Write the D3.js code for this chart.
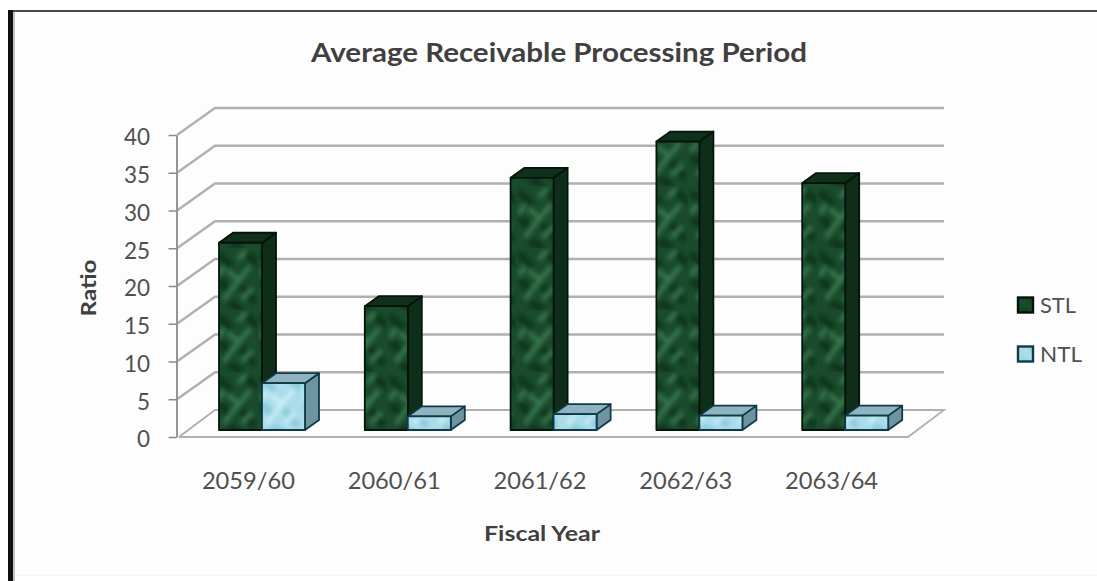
<!DOCTYPE html>
<html>
<head>
<meta charset="utf-8">
<script src="https://cdn.jsdelivr.net/npm/d3@7/dist/d3.min.js"></script>
<style>
  html, body { margin: 0; padding: 0; background: #fff; }
  svg { display: block; }
  text { font-family: Lato, "Open Sans", sans-serif; }
</style>
</head>
<body>
<svg id="chart" width="1097" height="581"></svg>
<script>
// Receivable processing period by fiscal year
const years = ["2059/60", "2060/61", "2061/62", "2062/63", "2063/64"];
const stl = [24.8, 16.4, 33.4, 38.2, 32.7];
const ntl = [6.2, 1.8, 2.1, 1.9, 1.9];
const ticks = [0, 5, 10, 15, 20, 25, 30, 35, 40];
const seriesNames = ["STL", "NTL"];

const svg = d3.select("#chart");
const W = 1097, H = 581;

// Oblique projection of the floor: front edge to back wall
const front = { left: 179, right: 908, base: 437, top: 135 };
const depth = { dx: 36, dy: -27 };
const barDepth = { dx: 14, dy: -10 };
const barInset = 0.26;          // where the bars stand on the floor

const y = d3.scaleLinear().domain([0, 40]).range([front.base, front.top]);
const x = d3.scaleBand().domain(years).range([front.left, front.right]);
const barW = 43;
const barLead = 40;

const skins = {
  STL: { front: "url(#stlMarble)", top: "#10301b", side: "#0f2e1a", stroke: "#04140a" },
  NTL: { front: "url(#ntlMarble)", top: "#8fb4bf", side: "#6f94a0", stroke: "#0f3a49" }
};

const defs = svg.append("defs");

// Marble-like fill patterns for the bar faces
function marble(id, base, streak, dark) {
  const p = defs.append("pattern").attr("id", id)
    .attr("patternUnits", "userSpaceOnUse").attr("width", 43).attr("height", 62);
  p.append("rect").attr("width", 43).attr("height", 62).attr("fill", base);
  const f = defs.append("filter").attr("id", id + "Soft")
    .attr("x", "-20%").attr("y", "-20%").attr("width", "140%").attr("height", "140%");
  f.append("feGaussianBlur").attr("stdDeviation", 2);
  const g = p.append("g").attr("filter", `url(#${id}Soft)`).attr("fill", "none").attr("stroke-linecap", "round");
  g.append("path").attr("stroke", dark).attr("stroke-width", 7)
    .attr("d", "M5 8 L14 16 M32 6 L40 14 M6 34 L14 42 M28 40 L38 52 M16 56 L24 60");
  g.append("path").attr("stroke", streak).attr("stroke-width", 4.5).attr("opacity", 0.8)
    .attr("d", "M10 50 L22 34 L34 20 M14 24 L24 32 M28 50 L36 42 M24 10 L30 4 M4 26 L8 20");
}
marble("stlMarble", "#1a4b2c", "#3f8556", "#0d361d");
marble("ntlMarble", "#aadcea", "#d4f2f9", "#8ccadb");

// Sheet background and frame rules
svg.append("rect").attr("width", W).attr("height", H).attr("fill", "#fff");
svg.append("rect").attr("x", 13).attr("y", 12).attr("width", W - 13).attr("height", 563).attr("fill", "#fdfdfd");
svg.append("rect").attr("x", 13).attr("y", 575).attr("width", W - 13).attr("height", 1).attr("fill", "#f6f6f6");
svg.append("rect").attr("x", 8).attr("y", 10).attr("width", 5).attr("height", H - 10).attr("fill", "#111");
svg.append("rect").attr("x", 13).attr("y", 10).attr("width", 2).attr("height", H - 10).attr("fill", "#c4c4c4");
svg.append("rect").attr("x", 13).attr("y", 10).attr("width", W - 13).attr("height", 2).attr("fill", "#4a4a4a");

const grid = svg.append("g").attr("fill", "none").attr("stroke", "#b0b0b0").attr("stroke-width", 2.4);

// Back wall gridlines with their diagonal returns to the axis
grid.selectAll("path.wall").data(ticks.filter(t => t > 0)).join("path")
  .attr("class", "wall")
  .attr("d", t => d3.line()([
    [front.left - 2, y(t)],
    [front.left + depth.dx, y(t) + depth.dy],
    [front.right + depth.dx, y(t) + depth.dy]
  ]));

// Floor outline
grid.append("path").attr("stroke-width", 1.8).attr("d", d3.line()([
  [front.left, y(0)],
  [front.left + depth.dx, y(0) + depth.dy],
  [front.right + depth.dx, y(0) + depth.dy],
  [front.right, y(0)],
  [front.left, y(0)]
]));

// Value axis
const axis = d3.axisLeft(y).tickValues(ticks).tickSize(8).tickSizeOuter(0);
const axisG = svg.append("g").attr("transform", `translate(${front.left - 2.5},0)`).call(axis);
axisG.select(".domain").attr("stroke", "#959595").attr("stroke-width", 2);
axisG.selectAll(".tick line").attr("stroke", "#8a8a8a").attr("stroke-width", 1.5);
axisG.selectAll(".tick text").attr("fill", "#505050").attr("font-size", 22.5)
  .attr("x", -26.5).attr("dy", "0.44em");
axisG.attr("font-family", null);

// One oblique box per value
function box(g, x0, value, skin) {
  const base = y(0) + barInset * depth.dy;
  const top = base - (y(0) - y(value));
  const { dx, dy } = barDepth;
  const face = g.append("g").attr("stroke", skin.stroke).attr("stroke-width", 1.8).attr("stroke-linejoin", "round");
  face.append("path").attr("fill", skin.side).attr("d", d3.line()([
    [x0 + barW, top], [x0 + barW + dx, top + dy], [x0 + barW + dx, base + dy], [x0 + barW, base]
  ]) + "Z");
  face.append("path").attr("fill", skin.top).attr("d", d3.line()([
    [x0, top], [x0 + dx, top + dy], [x0 + barW + dx, top + dy], [x0 + barW, top]
  ]) + "Z");
  face.append("rect").attr("x", x0).attr("y", top)
    .attr("width", barW).attr("height", base - top).attr("fill", skin.front);
}

const bars = svg.append("g");
years.forEach((year, i) => {
  const x0 = x(year) + barLead;
  const g = bars.append("g");
  box(g, x0, stl[i], skins.STL);
  box(g, x0 + barW, ntl[i], skins.NTL);
});

// Labels are set to a fixed run length, glyphs stretched with it
function fit(sel, len) {
  return sel.attr("textLength", len).attr("lengthAdjust", "spacingAndGlyphs");
}

// Category labels
fit(svg.append("g").selectAll("text").data(years).join("text")
  .attr("x", d => x(d) + x.bandwidth() / 2 - 3.5)
  .attr("y", 489)
  .attr("text-anchor", "middle")
  .attr("fill", "#505050").attr("font-size", 23)
  .text(d => d), 93);

// Titles
fit(svg.append("text").attr("x", 559).attr("y", 62).attr("text-anchor", "middle")
  .attr("fill", "#404040").attr("font-size", 27.5).attr("font-weight", 700)
  .text("Average Receivable Processing Period"), 496);
fit(svg.append("text").attr("x", 542).attr("y", 541).attr("text-anchor", "middle")
  .attr("fill", "#404040").attr("font-size", 21.5).attr("font-weight", 700)
  .text("Fiscal Year"), 116);
fit(svg.append("text").attr("transform", "translate(96,288) rotate(-90)").attr("text-anchor", "middle")
  .attr("fill", "#404040").attr("font-size", 21.5).attr("font-weight", 700)
  .text("Ratio"), 57);

// Legend
const legendY = d3.scalePoint().domain(seriesNames).range([305, 354]);
const legend = svg.append("g").selectAll("g").data(seriesNames).join("g")
  .attr("transform", d => `translate(1018,${legendY(d)})`);
legend.append("rect").attr("width", 15).attr("height", 15).attr("y", -7.5)
  .attr("fill", d => skins[d].front).attr("stroke", d => skins[d].stroke).attr("stroke-width", 2.4);
legend.append("text").attr("x", 22).attr("y", 8).attr("fill", "#505050").attr("font-size", 22)
  .text(d => d)
  .attr("textLength", d => d === "STL" ? 36 : 42).attr("lengthAdjust", "spacingAndGlyphs");
</script>
</body>
</html>
